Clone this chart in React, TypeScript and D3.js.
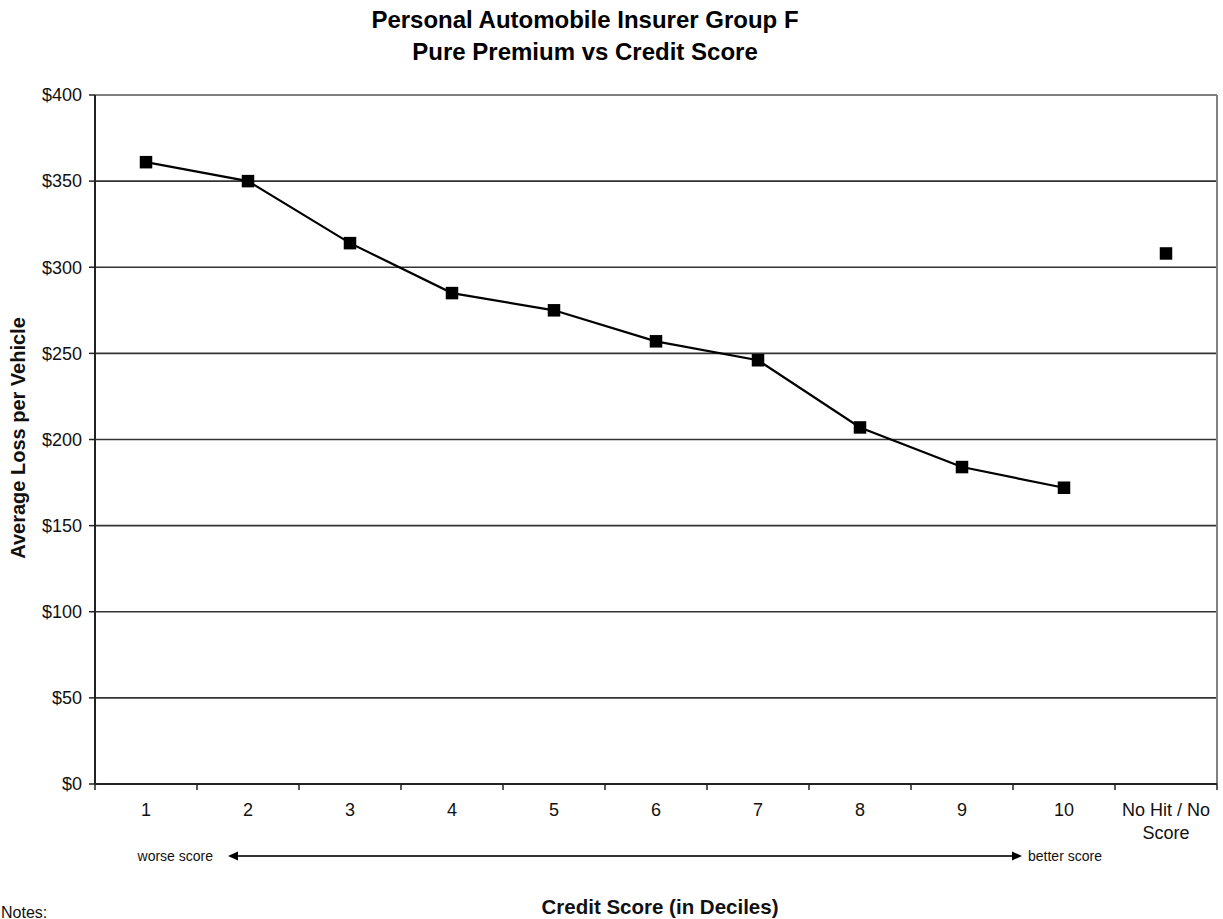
import React from "react";
import * as d3 from "d3";

const categories = ["1", "2", "3", "4", "5", "6", "7", "8", "9", "10", "No Hit / No Score"];
const decileValues = [361, 350, 314, 285, 275, 257, 246, 207, 184, 172];
const noHitValue = 308;
const yTicks = [0, 50, 100, 150, 200, 250, 300, 350, 400];
const titleLines = ["Personal Automobile Insurer Group F", "Pure Premium vs Credit Score"];

const W = 1223;
const H = 919;
const M = { left: 95, right: 1217, top: 95, bottom: 784 };
const FONT = "'Liberation Sans', Arial, Helvetica, sans-serif";

export default function App() {
  const x = d3.scaleBand<string>().domain(categories).range([M.left, M.right]).padding(0);
  const y = d3.scaleLinear().domain([0, 400]).range([M.bottom, M.top]);
  const cx = (c: string) => (x(c) as number) + x.bandwidth() / 2;

  const pts = decileValues.map((v, i) => [cx(categories[i]), y(v)] as [number, number]);
  const line = d3.line<[number, number]>()(pts) || "";
  const fmt = (v: number) => "$" + d3.format("d")(v);
  const boundaries = categories.map((c) => x(c) as number).concat([M.right]);
  const ms = 12.5;

  const arrowY = 856;
  const arrowX0 = 228;
  const arrowX1 = 1022;

  return (
    <svg width={W} height={H} style={{ position: "absolute", left: 0, top: 0, background: "#fff" }} fontFamily={FONT}>
      {/* title */}
      {titleLines.map((t, i) => (
        <text key={t} x={585} y={28 + i * 32} textAnchor="middle" fontSize={24} fontWeight="bold" fill="#000">
          {t}
        </text>
      ))}

      {/* gridlines */}
      {yTicks.filter((v) => v > 0).map((v) => (
        <line key={v} x1={M.left} x2={M.right} y1={y(v)} y2={y(v)} stroke={v === 400 ? "#808080" : "#333"} strokeWidth={v === 400 ? 2 : 1.6} />
      ))}
      {/* right border */}
      <line x1={M.right} x2={M.right} y1={M.top} y2={M.bottom} stroke="#808080" strokeWidth={2} />

      {/* y axis */}
      <line x1={M.left} x2={M.left} y1={M.top} y2={M.bottom} stroke="#222" strokeWidth={2} />
      {yTicks.map((v) => (
        <g key={v}>
          <line x1={M.left - 6} x2={M.left} y1={y(v)} y2={y(v)} stroke="#222" strokeWidth={1.5} />
          <text x={M.left - 13} y={y(v)} dy="0.35em" textAnchor="end" fontSize={18} fill="#111">
            {fmt(v)}
          </text>
        </g>
      ))}

      {/* x axis */}
      <line x1={M.left} x2={M.right} y1={M.bottom} y2={M.bottom} stroke="#222" strokeWidth={2} />
      {boundaries.map((b, i) => (
        <line key={i} x1={b} x2={b} y1={M.bottom} y2={M.bottom + 6} stroke="#222" strokeWidth={1.5} />
      ))}
      {categories.map((c) => {
        const parts = c === "No Hit / No Score" ? ["No Hit / No", "Score"] : [c];
        return (
          <text key={c} x={cx(c)} y={816} textAnchor="middle" fontSize={18} fill="#111">
            {parts.map((p, j) => (
              <tspan key={j} x={cx(c)} dy={j === 0 ? 0 : 23}>
                {p}
              </tspan>
            ))}
          </text>
        );
      })}

      {/* series line */}
      <path d={line} fill="none" stroke="#000" strokeWidth={2.2} />
      {pts.map(([px, py], i) => (
        <rect key={i} x={px - ms / 2} y={py - ms / 2} width={ms} height={ms} fill="#000" />
      ))}
      <rect x={cx(categories[10]) - ms / 2} y={y(noHitValue) - ms / 2} width={ms} height={ms} fill="#000" />

      {/* direction arrow */}
      <line x1={arrowX0 + 8} x2={arrowX1 - 8} y1={arrowY} y2={arrowY} stroke="#333" strokeWidth={2} />
      <path d={`M${arrowX0},${arrowY} L${arrowX0 + 10},${arrowY - 4.5} L${arrowX0 + 10},${arrowY + 4.5} Z`} fill="#000" />
      <path d={`M${arrowX1},${arrowY} L${arrowX1 - 10},${arrowY - 4.5} L${arrowX1 - 10},${arrowY + 4.5} Z`} fill="#000" />
      <text x={213} y={arrowY} dy="0.35em" textAnchor="end" fontSize={14} fill="#111">worse score</text>
      <text x={1028} y={arrowY} dy="0.35em" textAnchor="start" fontSize={14} fill="#111">better score</text>

      {/* axis titles */}
      <text x={660} y={914} textAnchor="middle" fontSize={20.5} fontWeight="bold" fill="#111">
        Credit Score (in Deciles)
      </text>
      <text transform={`translate(25, 438) rotate(-90)`} textAnchor="middle" fontSize={20} fontWeight="bold" fill="#111">
        Average Loss per Vehicle
      </text>

      <text x={1} y={918} fontSize={16} fill="#111">Notes:</text>
    </svg>
  );
}
